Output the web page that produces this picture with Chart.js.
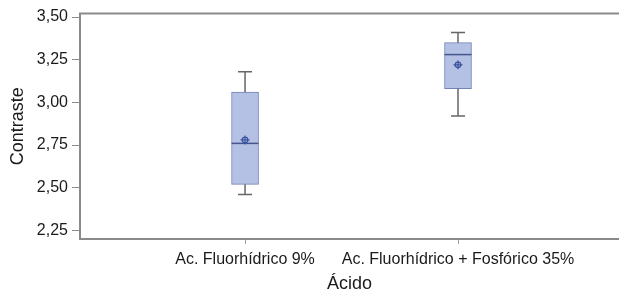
<!DOCTYPE html>
<html>
<head>
<meta charset="utf-8">
<script src="https://cdn.jsdelivr.net/npm/chart.js@4"></script>
<style>
  body { margin: 0; background: #fff; }
  #wrap { width: 619px; height: 301px; }
</style>
</head>
<body>
<div id="wrap"><canvas id="boxChart"></canvas></div>
<script>
// data
const categories = ["Ac. Fluorhídrico 9%", "Ac. Fluorhídrico + Fosfórico 35%"];
const whiskerLow = [2.46, 2.92];
const q1 = [2.52, 3.08];
const medians = [2.76, 3.28];
const means = [2.78, 3.22];
const q3 = [3.06, 3.35];
const whiskerHigh = [3.18, 3.41];
const yTicks = [2.25, 2.5, 2.75, 3.0, 3.25, 3.5];

const fmt = v => v.toFixed(2).replace(".", ",");

// whiskers, median, mean and the top frame line
const boxExtras = {
  id: "boxExtras",
  afterDatasetsDraw(chart) {
    const { ctx, chartArea } = chart;
    const xs = chart.scales.x, ys = chart.scales.y;
    ctx.save();
    // top frame
    ctx.strokeStyle = "#8a8a8a";
    ctx.lineWidth = 2;
    ctx.beginPath();
    ctx.moveTo(chartArea.left - 1, chartArea.top);
    ctx.lineTo(chartArea.right, chartArea.top);
    ctx.stroke();

    categories.forEach((c, i) => {
      const x = xs.getPixelForValue(i + 1);
      const yl = ys.getPixelForValue(whiskerLow[i]);
      const yq1 = ys.getPixelForValue(q1[i]);
      const yq3 = ys.getPixelForValue(q3[i]);
      const yh = ys.getPixelForValue(whiskerHigh[i]);
      ctx.strokeStyle = "#666666";
      ctx.lineWidth = 1.5;
      ctx.beginPath();
      ctx.moveTo(x, yq3); ctx.lineTo(x, yh);
      ctx.moveTo(x - 7, yh); ctx.lineTo(x + 7, yh);
      ctx.moveTo(x, yq1); ctx.lineTo(x, yl);
      ctx.moveTo(x - 7, yl); ctx.lineTo(x + 7, yl);
      ctx.stroke();

      // median
      const ym = ys.getPixelForValue(medians[i]);
      ctx.strokeStyle = "#45558e";
      ctx.lineWidth = 1.5;
      ctx.beginPath();
      ctx.moveTo(x - 13.5, ym); ctx.lineTo(x + 13.5, ym);
      ctx.stroke();

      // mean
      const ymean = ys.getPixelForValue(means[i]);
      ctx.strokeStyle = "#3a529e";
      ctx.lineWidth = 1.2;
      ctx.beginPath();
      ctx.arc(x, ymean, 2.8, 0, Math.PI * 2);
      ctx.moveTo(x - 4.5, ymean); ctx.lineTo(x + 4.5, ymean);
      ctx.moveTo(x, ymean - 4.5); ctx.lineTo(x, ymean + 4.5);
      ctx.stroke();
    });
    ctx.restore();
  }
};

const ctx = document.getElementById("boxChart").getContext("2d");
new Chart(ctx, {
  type: "bar",
  data: {
    datasets: [
      {
        label: "Contraste",
        data: categories.map((c, i) => ({ x: i + 1, y: [q1[i], q3[i]] })),
        backgroundColor: "#b4c1e4",
        borderColor: "#7483b8",
        borderWidth: 1,
        borderSkipped: false,
        barThickness: 27,
      },
    ],
  },
  options: {
    responsive: true,
    maintainAspectRatio: false,
    animation: false,
    layout: { padding: { top: 12, right: 0, bottom: 6, left: 0 } },
    plugins: {
      legend: { display: false },
      tooltip: { enabled: false },
    },
    scales: {
      x: {
        type: "linear",
        offset: false,
        min: 0.225,
        max: 2.756,
        afterBuildTicks: axis => {
          axis.ticks = categories.map((c, i) => ({ value: i + 1 }));
        },
        ticks: {
          callback: v => categories[v - 1],
          color: "#1a1a1a",
          font: { family: "Liberation Sans", size: 16 },
          padding: 6,
          maxRotation: 0,
          autoSkip: false,
        },
        grid: { offset: false, drawOnChartArea: false, tickLength: 5, color: "#a0a0a0" },
        border: { color: "#8a8a8a", width: 2 },
        title: {
          display: true,
          text: "Ácido",
          color: "#1a1a1a",
          font: { family: "Liberation Sans", size: 18 },
          padding: { top: 4, bottom: 0 },
        },
        afterFit: s => { s.height = 56; },
      },
      y: {
        min: 2.2,
        max: 3.52,
        afterBuildTicks: axis => {
          axis.ticks = yTicks.map(v => ({ value: v }));
        },
        ticks: {
          callback: v => fmt(v),
          color: "#1a1a1a",
          font: { family: "Liberation Sans", size: 16 },
          padding: 4,
        },
        grid: { drawOnChartArea: false, tickLength: 8, color: "#8a8a8a" },
        border: { color: "#8a8a8a", width: 2 },
        title: {
          display: true,
          text: "Contraste",
          color: "#1a1a1a",
          font: { family: "Liberation Sans", size: 18 },
          padding: { top: 7, bottom: 0 },
        },
        afterFit: s => { s.width = 80; },
      },
    },
  },
  plugins: [boxExtras],
});
</script>
</body>
</html>
